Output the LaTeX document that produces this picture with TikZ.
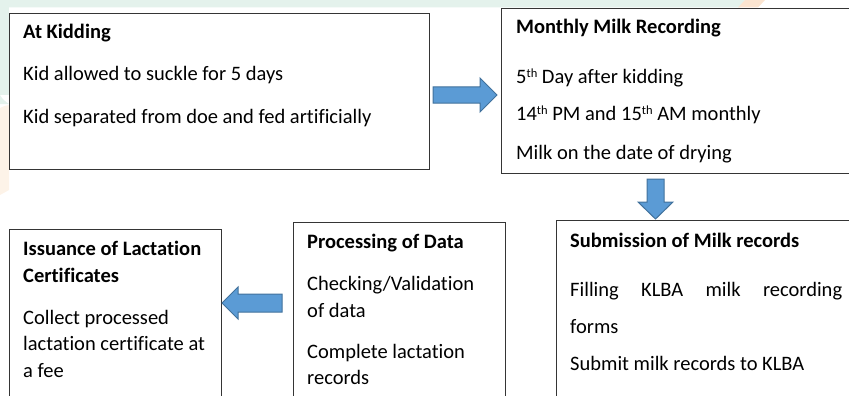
\documentclass[tikz,border=0pt]{standalone}
\usepackage{fontspec}
\setmainfont{Carlito}[Ligatures=NoCommon]
\definecolor{mint}{HTML}{E4F2EC}
\definecolor{peach}{HTML}{FDF3E8}
\definecolor{orangefaint}{HTML}{FBE4D0}
\definecolor{boxline}{HTML}{353535}
\definecolor{arrfill}{HTML}{5B9BD5}
\definecolor{arrline}{HTML}{41719C}
\newcommand\supth[1]{\raisebox{0.62ex}{\fontsize{12.5}{12.5}\selectfont #1}}
\tikzset{
  stagebox/.style={draw=boxline, line width=1.2pt, fill=white, rectangle, anchor=north west, inner sep=0pt},
  txt/.style={anchor=base west, inner sep=0pt, font=\fontsize{20.5}{24}\selectfont, text=black},
  ttl/.style={txt, font=\fontsize{20.5}{24}\selectfont\bfseries},
  blockarrow/.style={fill=arrfill, draw=arrline, line width=1pt, line join=miter}
}
\begin{document}
\begin{tikzpicture}[x=1pt,y=-1pt]
\useasboundingbox (0,0) rectangle (849,396);
\clip (0,0) rectangle (849,396);
% background decorations
\fill[mint] (0,0) -- (745,0) -- (740,7.5) -- (0,7.5) -- cycle;
\fill[mint] (0,0) rectangle (9,95);
\fill[mint] (0,95) .. controls (3,100) and (6,102) .. (9,104) -- (0,104) -- cycle;
\fill[peach] (0,108) .. controls (4,106) and (7,105) .. (9,105) -- (9,190) -- (0,195) -- cycle;
\fill[orangefaint] (745,0) -- (765,0) -- (758,7.5) -- (738,7.5) -- cycle;

% boxes
\node[stagebox, minimum width=420pt, minimum height=156pt] (kid) at (9,13) {};
\node[stagebox, minimum width=370pt, minimum height=165pt] (mmr) at (501,8) {};
\node[stagebox, minimum width=320pt, minimum height=200pt] (sub) at (556,220) {};
\node[stagebox, minimum width=212pt, minimum height=200pt] (proc) at (293,222) {};
\node[stagebox, minimum width=212pt, minimum height=200pt] (iss) at (9,229) {};

% block arrows
\draw[blockarrow] (433,87) -- (480,87) -- (480,78) -- (497,95) -- (480,112) -- (480,103) -- (433,103) -- cycle;
\draw[blockarrow] (647,179) -- (664,179) -- (664,202) -- (673,202) -- (655.5,219) -- (638,202) -- (647,202) -- cycle;
\draw[blockarrow] (282,294) -- (238,294) -- (238,287) -- (222,303) -- (238,319) -- (238,312) -- (282,312) -- cycle;

% box 1
\node[ttl] (kidT) at (23,39) {At Kidding};
\node[txt] (kid1) at (23,81) {Kid allowed to suckle for 5 days};
\node[txt] (kid2) at (23,123) {Kid separated from doe and fed artificially};

% box 2
\node[ttl] (mmrT) at (516,34) {Monthly Milk Recording};
\node[txt] (mmr1) at (516,84) {5\supth{th} Day after kidding};
\node[txt] (mmr2) at (516,121) {14\supth{th} PM and 15\supth{th} AM monthly};
\node[txt] (mmr3) at (516,159) {Milk on the date of drying};

% box 3
\node[ttl] (subT) at (570,247) {Submission of Milk records};
\node[txt] (sub1) at (570,296) {\makebox[272pt][l]{Filling\hfill KLBA\hfill milk\hfill recording}};
\node[txt] (sub2) at (570,333) {forms};
\node[txt] (sub3) at (570,370) {Submit milk records to KLBA};

% box 4
\node[ttl] (procT) at (307,248) {Processing of Data};
\node[txt] (proc1) at (307,290) {Checking/Validation};
\node[txt] (proc2) at (307,317) {of data};
\node[txt] (proc3) at (307,358) {Complete lactation};
\node[txt] (proc4) at (307,384) {records};

% box 5
\node[ttl] (issT) at (23,255) {Issuance of Lactation};
\node[ttl] (issT2) at (23,282) {Certificates};
\node[txt] (iss1) at (23,324) {Collect processed};
\node[txt] (iss2) at (23,350) {lactation certificate at};
\node[txt] (iss3) at (23,377) {a fee};
\end{tikzpicture}
\end{document}
